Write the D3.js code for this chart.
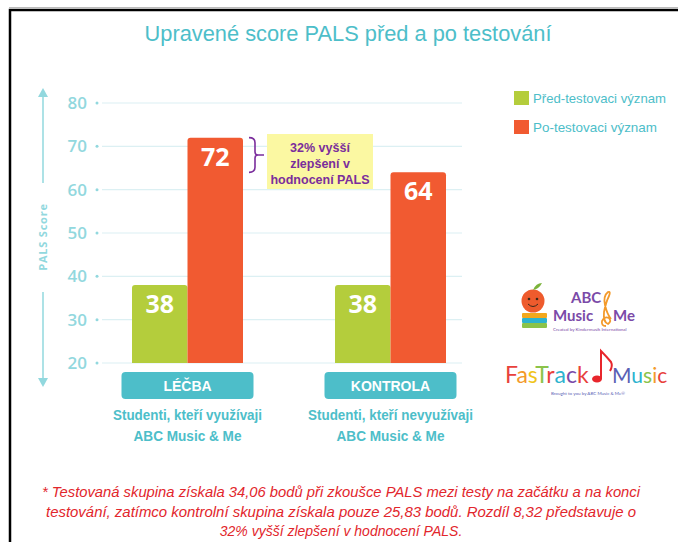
<!DOCTYPE html>
<html>
<head>
<meta charset="utf-8">
<script src="https://cdn.jsdelivr.net/npm/d3@7"></script>
<style>
  html, body { margin: 0; padding: 0; background: #fff; }
  svg { display: block; }
</style>
</head>
<body>
<svg id="chart" width="678" height="542"></svg>
<script>
// ---------- DATA ----------
const title = "Upravené score PALS před a po testování";
const categories = ["LÉČBA", "KONTROLA"];
const subtitleLine1 = ["Studenti, kteří využívaji", "Studenti, kteří nevyužívaji"];
const subtitleLine2 = ["ABC Music & Me", "ABC Music & Me"];
const seriesNames = ["Před-testovaci význam", "Po-testovaci význam"];
const preValues = [38, 38];
const postValues = [72, 64];
const yTicks = [20, 30, 40, 50, 60, 70, 80];
const yAxisTitle = "PALS Score";
const annotationLines = ["32% vyšší", "zlepšení v", "hodnocení PALS"];
const footnoteLines = [
  "* Testovaná skupina získala 34,06 bodů při zkoušce PALS mezi testy na začátku a na konci",
  "testování, zatímco kontrolní skupina získala pouze 25,83 bodů. Rozdíl 8,32 představuje o",
  "32% vyšší zlepšení v hodnocení PALS."
];

// ---------- STYLE ----------
const C = {
  teal: "#4dbec9",
  tealLight: "#92d8de",
  grid: "#dcf0f3",
  green: "#b4cd3c",
  red: "#f15a31",
  purple: "#7a2d9c",
  yellow: "#fbf8a2",
  foot: "#e2262c"
};

const svg = d3.select("#chart");

function fit(sel, w) {
  sel.each(function() {
    const n = this.getComputedTextLength();
    if (Math.abs(n - w) > 1) {
      d3.select(this).attr("textLength", w).attr("lengthAdjust", "spacingAndGlyphs");
    }
  });
  return sel;
}

// frame
svg.append("line").attr("x1", 9).attr("x2", 678).attr("y1", 7.5).attr("y2", 7.5)
  .attr("stroke", "#bbb").attr("stroke-width", 1);
svg.append("path").attr("d", "M10,542 V10 H678").attr("fill", "none")
  .attr("stroke", "#000").attr("stroke-width", 2.5);

// title
svg.append("text").attr("x", 348).attr("y", 41).attr("text-anchor", "middle")
  .attr("font-family", "Liberation Sans, Arial, sans-serif").attr("font-size", 22)
  .attr("fill", C.teal).text(title).call(fit, 407);

// scales
const y = d3.scaleLinear().domain([20, 80]).range([363, 103]);
const x0 = d3.scaleBand().domain(categories).range([132, 446]).paddingInner(0.4532).paddingOuter(0);
const x1 = d3.scaleBand().domain(["pre", "post"]).range([0, x0.bandwidth()]);

// gridlines
const g = svg.append("g");
g.selectAll("line.grid").data(yTicks).join("line")
  .attr("x1", 102).attr("x2", 462)
  .attr("y1", d => y(d)).attr("y2", d => y(d))
  .attr("stroke", C.grid).attr("stroke-width", 1.2);
g.selectAll("circle.tick").data(yTicks).join("circle")
  .attr("cx", 97).attr("cy", d => y(d)).attr("r", 1.5).attr("fill", C.tealLight);
g.selectAll("text.tick").data(yTicks).join("text")
  .attr("x", 87).attr("y", d => y(d)).attr("dy", "0.36em")
  .attr("text-anchor", "end")
  .attr("font-family", "Open Sans, sans-serif").attr("font-weight", 600)
  .attr("font-size", 17).attr("fill", C.tealLight).text(d => d);

// y axis arrow
const ax = 43;
svg.append("line").attr("x1", ax).attr("x2", ax).attr("y1", 96).attr("y2", 183)
  .attr("stroke", C.tealLight).attr("stroke-width", 1.5);
svg.append("line").attr("x1", ax).attr("x2", ax).attr("y1", 292).attr("y2", 378)
  .attr("stroke", C.tealLight).attr("stroke-width", 1.5);
svg.append("path").attr("d", `M${ax},88 L${ax-5},97 L${ax+5},97 Z`).attr("fill", C.tealLight);
svg.append("path").attr("d", `M${ax},387 L${ax-5},378 L${ax+5},378 Z`).attr("fill", C.tealLight);
svg.append("text").attr("transform", `translate(${ax + 4},237) rotate(-90)`)
  .attr("text-anchor", "middle")
  .attr("font-family", "Open Sans, sans-serif").attr("font-weight", 700)
  .attr("font-size", 11).attr("letter-spacing", 0.8)
  .attr("fill", C.tealLight).text(yAxisTitle);

// bars
const barData = categories.map((c, i) => ({ cat: c, pre: preValues[i], post: postValues[i] }));
function topRounded(x, yTop, w, yBot, r) {
  return `M${x},${yBot} V${yTop + r} Q${x},${yTop} ${x + r},${yTop} H${x + w - r} Q${x + w},${yTop} ${x + w},${yTop + r} V${yBot} Z`;
}
const groups = svg.selectAll("g.grp").data(barData).join("g")
  .attr("transform", d => `translate(${x0(d.cat)},0)`);
const keys = [{ k: "pre", col: C.green }, { k: "post", col: C.red }];
keys.forEach(s => {
  groups.append("path")
    .attr("d", d => topRounded(x1(s.k), y(d[s.k]), x1.bandwidth(), y(20), 3))
    .attr("fill", s.col);
  groups.append("text")
    .attr("x", x1(s.k) + x1.bandwidth() / 2)
    .attr("y", d => y(d[s.k]) + 28)
    .attr("text-anchor", "middle")
    .attr("font-family", "Open Sans, sans-serif").attr("font-weight", 700)
    .attr("font-size", 25).attr("fill", "#fff")
    .text(d => d[s.k]);
});

// category buttons & subtitles
const catG = svg.selectAll("g.cat").data(categories).join("g")
  .attr("transform", d => `translate(${x0(d) + x0.bandwidth() / 2},0)`);
catG.append("rect").attr("x", -66).attr("y", 372).attr("width", 132).attr("height", 27)
  .attr("rx", 4).attr("fill", C.teal);
catG.append("text").attr("x", 0).attr("y", 390.5).attr("text-anchor", "middle")
  .attr("font-family", "Liberation Sans, Arial, sans-serif").attr("font-weight", 700)
  .attr("font-size", 14).attr("fill", "#fff").text(d => d);
catG.append("text").attr("x", 0).attr("y", 420).attr("text-anchor", "middle")
  .attr("font-family", "Liberation Sans, Arial, sans-serif").attr("font-weight", 700)
  .attr("font-size", 14.5).attr("fill", C.teal).text((d, i) => subtitleLine1[i])
  .each(function(d, i) { d3.select(this).call(fit, i === 0 ? 149 : 165); });
catG.append("text").attr("x", 0).attr("y", 441).attr("text-anchor", "middle")
  .attr("font-family", "Liberation Sans, Arial, sans-serif").attr("font-weight", 700)
  .attr("font-size", 14.5).attr("fill", C.teal).text((d, i) => subtitleLine2[i])
  .call(fit, 108);

// annotation
const bTop = y(postValues[0]), bBot = y(postValues[1]), bMid = (bTop + bBot) / 2;
svg.append("path")
  .attr("d", `M249,${bTop} Q255,${bTop} 255,${bTop + 5} V${bMid - 3} Q255,${bMid} 258,${bMid} H264 M258,${bMid} Q255,${bMid} 255,${bMid + 3} V${bBot - 5} Q255,${bBot} 249,${bBot}`)
  .attr("fill", "none").attr("stroke", C.purple).attr("stroke-width", 1.6);
svg.append("rect").attr("x", 267).attr("y", 134).attr("width", 106).attr("height", 55)
  .attr("fill", C.yellow);
svg.selectAll("text.ann").data(annotationLines).join("text")
  .attr("x", 320).attr("y", (d, i) => 152 + i * 16).attr("text-anchor", "middle")
  .attr("font-family", "Liberation Sans, Arial, sans-serif").attr("font-weight", 700)
  .attr("font-size", 12.5).attr("fill", C.purple).text(d => d);

// legend
const leg = svg.selectAll("g.leg").data(seriesNames).join("g")
  .attr("transform", (d, i) => `translate(514,${91 + i * 29})`);
leg.append("rect").attr("width", 15).attr("height", 14)
  .attr("fill", (d, i) => i === 0 ? C.green : C.red);
leg.append("text").attr("x", 19).attr("y", 12)
  .attr("font-family", "Liberation Sans, Arial, sans-serif").attr("font-size", 13)
  .attr("fill", C.teal).text(d => d)
  .each(function(d, i) { d3.select(this).call(fit, i === 0 ? 133 : 124); });

// ---------- logos (approximate) ----------
const logo = svg.append("g");
// apple
logo.append("circle").attr("cx", 533).attr("cy", 301).attr("r", 11.5).attr("fill", "#ee5b2d");
logo.append("path").attr("d", "M533,290 Q536,283 542,283 Q539,289 533,290").attr("fill", "#7bb33a");
logo.append("circle").attr("cx", 529).attr("cy", 299).attr("r", 1.3).attr("fill", "#3a2a1a");
logo.append("circle").attr("cx", 537).attr("cy", 299).attr("r", 1.3).attr("fill", "#3a2a1a");
logo.append("path").attr("d", "M528,304 Q533,309 538,304").attr("fill", "none").attr("stroke", "#3a2a1a").attr("stroke-width", 1);
// books
[["#f3a81d", 313], ["#2db3cf", 318], ["#8bc34a", 323]].forEach(([c, yy]) => {
  logo.append("rect").attr("x", 522).attr("y", yy).attr("width", 25).attr("height", 5).attr("rx", 1).attr("fill", c);
});
logo.append("text").attr("x", 571).attr("y", 303).attr("font-family", "Lato, sans-serif")
  .attr("font-weight", 700).attr("font-size", 15).attr("fill", "#7b4aa8").text("ABC");
logo.append("text").attr("x", 553).attr("y", 321).attr("font-family", "Lato, sans-serif")
  .attr("font-weight", 700).attr("font-size", 15).attr("fill", "#7b4aa8").text("Music");
logo.append("text").attr("x", 613).attr("y", 321).attr("font-family", "Lato, sans-serif")
  .attr("font-weight", 700).attr("font-size", 15).attr("fill", "#7b4aa8").text("Me");
// treble-clef-like ampersand drawn as a path
logo.append("path")
  .attr("d", "M606,326 Q601,326 602,321 Q604,316 609,318 Q612,321 608,324 Q603,322 604,312 Q606,302 609,296 Q611,291 608,292 Q603,296 605,305 Q607,314 611,319")
  .attr("fill", "none").attr("stroke", "#f39a2b").attr("stroke-width", 1.8);
logo.append("text").attr("x", 553).attr("y", 331).attr("font-family", "Lato, sans-serif")
  .attr("font-size", 4.5).attr("fill", "#7b4aa8").text("Created by Kindermusik International");

// FasTrack Music
const ftLetters = [["F", "#e8413c"], ["a", "#f39a2b"], ["s", "#f0c419"], ["T", "#8bc34a"], ["r", "#e8413c"], ["a", "#2db3cf"], ["c", "#7b4aa8"], ["k", "#e8413c"]];
const ft = logo.append("text").attr("x", 505).attr("y", 383).attr("font-family", "Lato, sans-serif")
  .attr("font-size", 23);
ftLetters.forEach(([ch, col]) => ft.append("tspan").attr("fill", col).text(ch));
const muLetters = [["M", "#5b5fb5"], ["u", "#2db3cf"], ["s", "#8bc34a"], ["i", "#f39a2b"], ["c", "#e8413c"]];
const mu = logo.append("text").attr("x", 612).attr("y", 383).attr("font-family", "Lato, sans-serif")
  .attr("font-size", 21);
muLetters.forEach(([ch, col]) => mu.append("tspan").attr("fill", col).text(ch));
// note
logo.append("ellipse").attr("cx", 597).attr("cy", 379).attr("rx", 5).attr("ry", 3.5).attr("fill", "#e8262c");
logo.append("path").attr("d", "M601,379 V351 Q606,356 611,362 Q613,366 610,371").attr("fill", "none")
  .attr("stroke", "#e8262c").attr("stroke-width", 2);
logo.append("text").attr("x", 588).attr("y", 395).attr("text-anchor", "middle").attr("font-family", "Lato, sans-serif")
  .attr("font-size", 4.5).attr("fill", "#5b5fb5").text("Brought to you by ABC Music & Me®");

// footnote
svg.selectAll("text.foot").data(footnoteLines).join("text")
  .attr("x", 341).attr("y", (d, i) => 497 + i * 19.5).attr("text-anchor", "middle")
  .attr("font-family", "Liberation Sans, Arial, sans-serif").attr("font-style", "italic")
  .attr("font-size", 14).attr("fill", C.foot).text(d => d)
  .each(function(d, i) { if (i < 2) d3.select(this).call(fit, i === 0 ? 598 : 590); });
</script>
</body>
</html>
